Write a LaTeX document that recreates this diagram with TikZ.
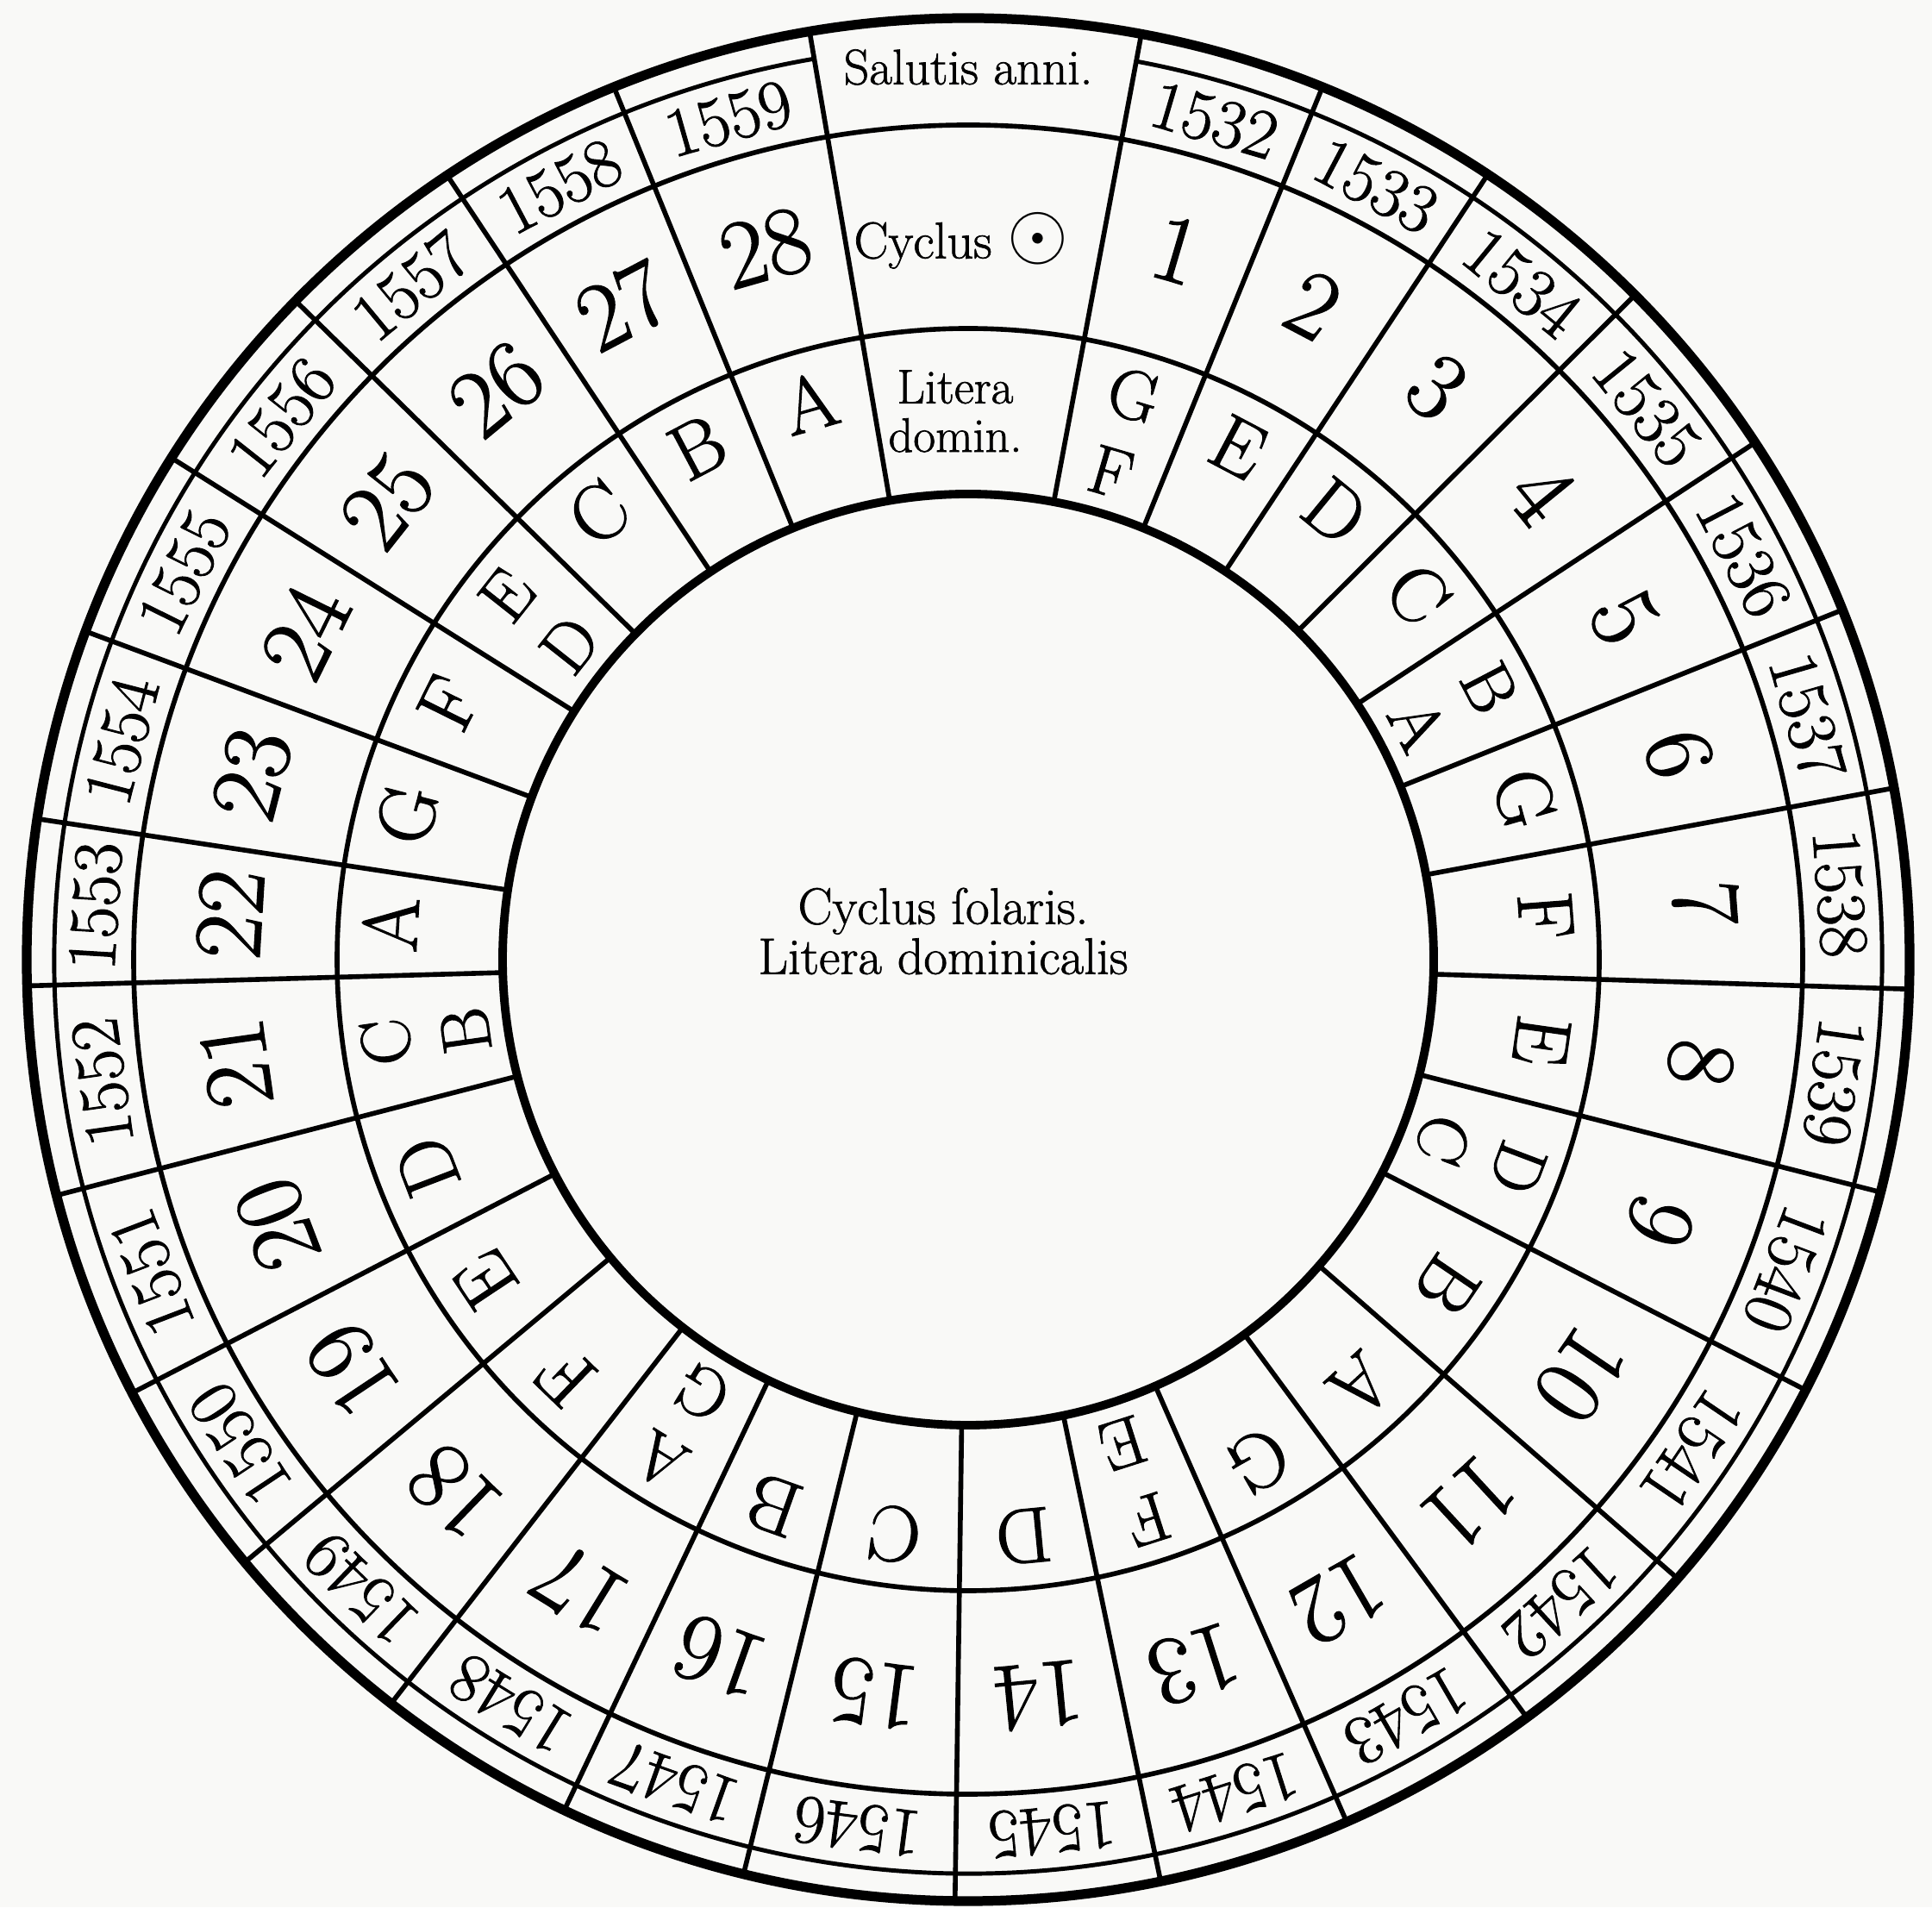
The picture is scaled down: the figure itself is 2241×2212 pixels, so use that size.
\documentclass[tikz,border=0pt]{standalone}
\usepackage{fontspec}
\setmainfont{Latin Modern Roman}[FakeBold=1.2]
\definecolor{paper}{RGB}{249,249,247}
\tikzset{
  yearlbl/.style={font=\fontsize{23}{23}\selectfont, inner sep=0pt},
  cyclbl/.style={font=\fontsize{32}{32}\selectfont, inner sep=0pt},
  letlbl/.style={font=\fontsize{26}{26}\selectfont, inner sep=0pt},
  pairlbl/.style={font=\fontsize{23}{23}\selectfont, inner sep=0pt},
  hdrlbl/.style={font=\fontsize{16}{16}\selectfont, align=center, inner sep=0pt},
  divider/.style={line width=1.6pt},
  ringline/.style={line width=1.6pt},
}
\def\ang{{79.4,67.9,56.5,44.9,33.3,21.8,10.5,-1.8,-14.3,-27.2,-41.1,-53.6,-66.3,-78.2,-90.8,-103.8,-115.4,-127.8,-140.2,-152.6,-165.5,-178.4,-188.6,-200.4,-212.2,-224.4,-236.4,-247.9,-260.3}}
\begin{document}
\begin{tikzpicture}[x=0.1mm,y=0.1mm]
\useasboundingbox (0,0) rectangle (2241,2212);
\fill[paper] (0,0) rectangle (2241,2212);
\begin{scope}[shift={(1123,1099)}]
\coordinate (C) at (0,0);
% rings
\draw[line width=3.2pt] (C) circle (1092);
\draw[line width=1.4pt] (79.4:1060) arc[start angle=79.4, end angle=-260.3, radius=1060];
\draw[ringline] (C) circle (968);
\draw[ringline] (C) circle (732);
\draw[line width=2.8pt] (C) circle (540);
% dividers
\foreach \d in {79.4,67.9,56.5,44.9,33.3,21.8,10.5,-1.8,-14.3,-27.2,-41.1,-53.6,-66.3,-78.2,-90.8,-103.8,-115.4,-127.8,-140.2,-152.6,-165.5,-178.4,-188.6,-200.4,-212.2,-224.4,-236.4,-247.9,-260.3}
  \draw[divider] (\d:540) -- (\d:1092);
% years and cycle numbers
\foreach \i in {1,...,28}{
  \pgfmathsetmacro\a{\ang[\i-1]}
  \pgfmathsetmacro\b{\ang[\i]}
  \pgfmathsetmacro\m{(\a+\b)/2}
  \pgfmathtruncatemacro\yr{1531+\i}
  \node[yearlbl, rotate=\m-90] (y\i) at (\m:1014) {\yr};
  \node[cyclbl, rotate=\m-90] (c\i) at (\m:858) {\i};
}
% single dominical letters
\foreach \i/\l in {2/E,3/D,4/C,6/G,7/F,8/E,10/B,11/A,12/G,14/D,15/C,16/B,18/F,19/E,20/D,22/A,23/G,24/F,26/C,27/B,28/A}{
  \pgfmathsetmacro\a{\ang[\i-1]}
  \pgfmathsetmacro\b{\ang[\i]}
  \pgfmathsetmacro\m{(\a+\b)/2}
  \node[letlbl, rotate=\m-90] (l\i) at (\m:672) {\l};
}
% leap-year letter pairs
\foreach \i/\p/\q in {1/G/F,5/B/A,9/D/C,13/F/E,17/A/G,21/C/B,25/E/D}{
  \pgfmathsetmacro\a{\ang[\i-1]}
  \pgfmathsetmacro\b{\ang[\i]}
  \pgfmathsetmacro\m{(\a+\b)/2}
  \node[pairlbl, rotate=\m-90] (la\i) at (\m:682) {\p};
  \node[pairlbl, rotate=\m-90] (lb\i) at (\m:589) {\q};
}
% header sector
\node[hdrlbl, font=\fontsize{16.5}{16.5}\selectfont] (hsal) at (0,1035) {Salutis anni.};
\node[hdrlbl, font=\fontsize{17}{17}\selectfont] (hcyc) at (-8,834) {Cyclus \scalebox{1.5}{$\odot$}};
\node[hdrlbl] (hlit) at (-15,636) {Litera\\domin.};
% centre
\node[hdrlbl, font=\fontsize{17}{16.5}\selectfont] (ctr) at (-29,33) {Cyclus ſolaris.\\Litera dominicalis};
\end{scope}
\end{tikzpicture}
\end{document}
